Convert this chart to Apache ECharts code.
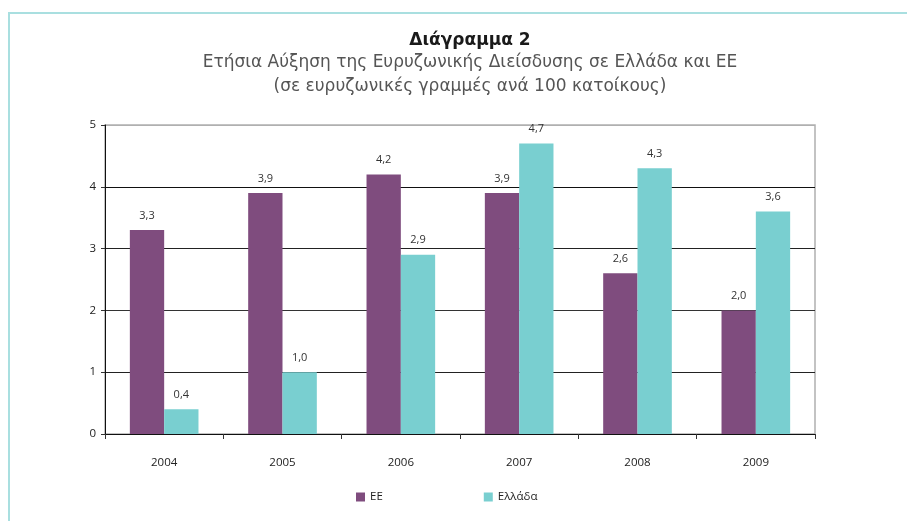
<!DOCTYPE html>
<html>
<head>
<meta charset="utf-8">
<script src="https://cdn.jsdelivr.net/npm/echarts@6/dist/echarts.min.js"></script>
<style>
  html, body { margin: 0; padding: 0; background: #fff; }
  #frame {
    position: absolute; left: 8px; top: 12px; right: 0; bottom: 0;
    border-top: 2px solid #a9dfe0; border-left: 2px solid #a9dfe0;
  }
  #chart { position: absolute; left: 0; top: 0; width: 907px; height: 521px; }
</style>
</head>
<body>
<div id="frame"></div>
<div id="chart"></div>
<script>
var years = ["2004", "2005", "2006", "2007", "2008", "2009"];
var euValues = [3.3, 3.9, 4.2, 3.9, 2.6, 2.0];
var greeceValues = [0.4, 1.0, 2.9, 4.7, 4.3, 3.6];
var seriesNames = ["ΕΕ", "Ελλάδα"];
var yTicks = [0, 1, 2, 3, 4, 5];

var font = "'Open Sans', 'Noto Sans', sans-serif";
var titleFont = "'DejaVu Sans', sans-serif";

function commaLabel(p) {
  return p.value.toFixed(1).replace(".", ",");
}

var myChart = echarts.init(document.getElementById("chart"));
var option = {
  animation: false,
  title: {
    text: "Διάγραμμα 2",
    subtext: "Ετήσια Αύξηση της Ευρυζωνικής Διείσδυσης σε Ελλάδα και ΕΕ\n(σε ευρυζωνικές γραμμές ανά 100 κατοίκους)",
    left: 465,
    textAlign: "center",
    top: 27,
    itemGap: 2,
    textStyle: { fontFamily: titleFont, fontSize: 17, fontWeight: "bold", color: "#1a1a1a" },
    subtextStyle: { fontFamily: titleFont, fontSize: 17, color: "#555", lineHeight: 24 }
  },
  legend: {
    bottom: 13,
    left: 351,
    itemGap: 101,
    itemWidth: 9,
    itemHeight: 9,
    icon: "rect",
    textStyle: { fontFamily: font, fontSize: 11.5, color: "#222" },
    data: seriesNames
  },
  grid: {
    left: 105,
    right: 92,
    top: 125,
    bottom: 87,
    show: true,
    borderColor: "#b0b0b0",
    borderWidth: 1.5
  },
  xAxis: {
    type: "category",
    data: years,
    axisLine: { lineStyle: { color: "#111", width: 1 } },
    axisTick: { show: true, length: 5, lineStyle: { color: "#333" } },
    axisLabel: { fontFamily: font, fontSize: 11.5, color: "#222", margin: 23 }
  },
  yAxis: {
    type: "value",
    min: yTicks[0],
    max: yTicks[yTicks.length - 1],
    interval: 1,
    axisLine: { show: true, lineStyle: { color: "#111", width: 1 } },
    axisTick: { show: true, length: 4, lineStyle: { color: "#333" } },
    axisLabel: { fontFamily: font, fontSize: 11.5, color: "#222", margin: 9 },
    splitLine: { lineStyle: { color: ["#111", "#222", "#333", "#222", "#111", "#b0b0b0"], width: 1 } }
  },
  series: [
    {
      name: seriesNames[0],
      type: "bar",
      data: euValues,
      barWidth: "29%",
      barGap: "0%",
      itemStyle: { color: "#7f4c7e" },
      label: { show: true, position: "top", distance: 9, formatter: commaLabel, fontFamily: font, fontSize: 11, color: "#333" }
    },
    {
      name: seriesNames[1],
      type: "bar",
      data: greeceValues,
      barWidth: "29%",
      itemStyle: { color: "#79cfd0" },
      label: { show: true, position: "top", distance: 9, formatter: commaLabel, fontFamily: font, fontSize: 11, color: "#333" }
    }
  ]
};
myChart.setOption(option, true);
</script>
</body>
</html>
